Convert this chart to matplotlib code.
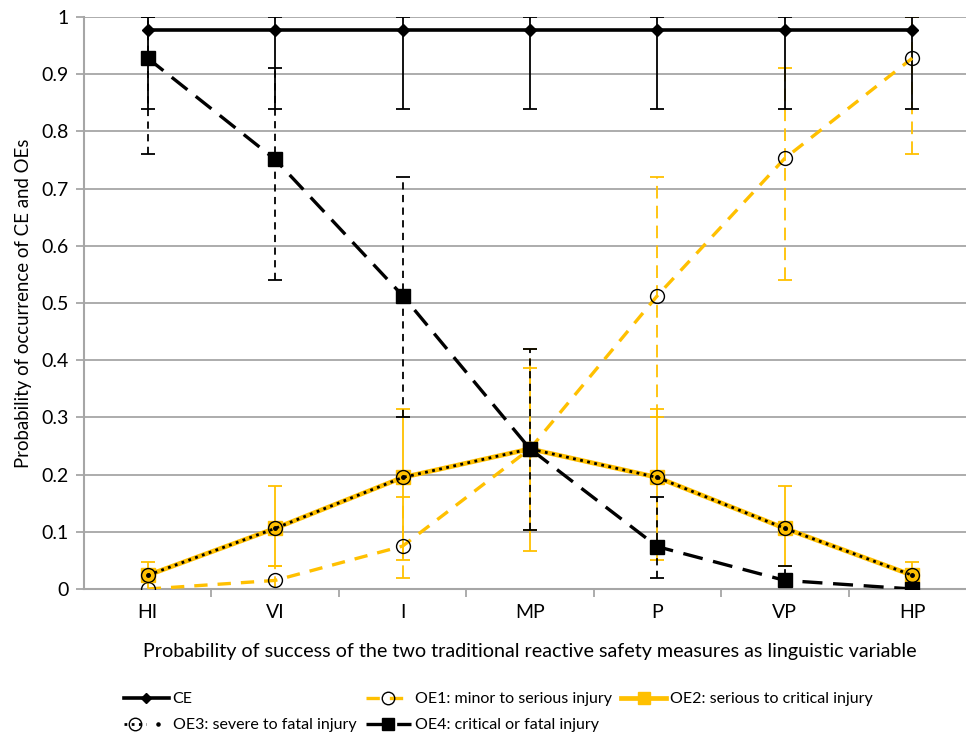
import matplotlib.pyplot as plt
import numpy as np
from matplotlib.legend_handler import HandlerTuple

plt.rcParams['font.family'] = ['Lato', 'DejaVu Sans']

categories = ['HI', 'VI', 'I', 'MP', 'P', 'VP', 'HP']

ce = [0.977, 0.977, 0.977, 0.977, 0.977, 0.977, 0.977]
ce_lo = [0.84, 0.84, 0.84, 0.84, 0.84, 0.84, 0.84]
ce_hi = [1.0, 1.0, 1.0, 1.0, 1.0, 1.0, 1.0]

oe1 = [0.0, 0.015, 0.075, 0.245, 0.513, 0.753, 0.928]
oe1_lo = [0.0, 0.0, 0.02, 0.104, 0.30, 0.54, 0.76]
oe1_hi = [0.0, 0.04, 0.16, 0.42, 0.72, 0.91, 1.0]

oe2 = [0.024, 0.106, 0.195, 0.245, 0.195, 0.106, 0.024]
oe2_lo = [0.0, 0.04, 0.05, 0.067, 0.05, 0.04, 0.0]
oe2_hi = [0.048, 0.18, 0.314, 0.386, 0.314, 0.18, 0.048]

oe3 = [0.024, 0.106, 0.195, 0.245, 0.195, 0.106, 0.024]

oe4 = [0.928, 0.751, 0.513, 0.245, 0.074, 0.015, 0.0]
oe4_lo = [0.76, 0.54, 0.30, 0.104, 0.02, 0.0, 0.0]
oe4_hi = [1.0, 0.91, 0.72, 0.42, 0.16, 0.04, 0.0]

yellow = '#FFC000'
grid = '#A6A6A6'
x = np.arange(len(categories))

fig = plt.figure(figsize=(9.66, 7.36), dpi=100)
ax = fig.add_axes([84 / 966, 147 / 736, 892 / 966, 572 / 736])


def err(ax, vals, lo, hi, color, ls, z):
    yerr = [np.array(vals) - np.array(lo), np.array(hi) - np.array(vals)]
    eb = ax.errorbar(x, vals, yerr=yerr, fmt='none', ecolor=color,
                     elinewidth=1.3, capsize=5, capthick=1.3, zorder=z)
    eb[2][0].set_linestyle(ls)


# error bars
err(ax, oe1, oe1_lo, oe1_hi, yellow, (0, (7, 4)), 2)
err(ax, oe2, oe2_lo, oe2_hi, yellow, '-', 2.1)
err(ax, oe4, oe4_lo, oe4_hi, 'black', (0, (4, 3)), 2.2)
err(ax, ce, ce_lo, ce_hi, 'black', '-', 2.3)

# series
l_ce, = ax.plot(x, ce, color='black', lw=2.6, marker='D', ms=6, zorder=3)
l_oe1, = ax.plot(x, oe1, color=yellow, lw=2.4, dashes=(4, 3), marker='o', ms=10,
                 mfc='none', mec='black', mew=1.0, zorder=3.1)
l_oe2, = ax.plot(x, oe2, color=yellow, lw=3.4, marker='s', ms=10,
                 mfc=yellow, mec=yellow, zorder=3.2)
l_oe3, = ax.plot(x, oe3, color='black', lw=2.0, dashes=(1, 1.6), marker='o', ms=10,
                 mfc='none', mec='black', mew=1.0, zorder=3.3)
d_oe3, = ax.plot(x, oe3, ls='none', marker='o', ms=2.5, color='black', zorder=3.4)
l_oe4, = ax.plot(x, oe4, color='black', lw=2.4, dashes=(6, 3.2), marker='s', ms=10,
                 zorder=3.5)

ax.set_xlim(-0.5, 6.5)
ax.set_ylim(0, 1)
ax.set_xticks(x)
ax.set_xticklabels(categories, fontsize=14)
ax.set_xticks(np.arange(0.5, 6.5, 1), minor=True)
ax.tick_params(axis='x', which='major', length=0, pad=11)
ax.tick_params(axis='x', which='minor', length=6, color=grid, width=1.3)
ax.set_yticks(np.arange(0, 1.01, 0.1))
ax.set_yticklabels(['0', '0.1', '0.2', '0.3', '0.4', '0.5', '0.6', '0.7', '0.8', '0.9', '1'],
                   fontsize=14)
ax.tick_params(axis='y', length=6, color=grid, width=1.3, pad=5)
ax.grid(axis='y', color=grid, lw=1.3)
ax.set_axisbelow(True)
for s in ['top', 'right']:
    ax.spines[s].set_visible(False)
for s in ['left', 'bottom']:
    ax.spines[s].set_color(grid)
    ax.spines[s].set_linewidth(1.5)

ax.set_xlabel('Probability of success of the two traditional reactive safety measures as linguistic variable',
              fontsize=14.2, labelpad=16)
ax.set_ylabel('Probability of occurrence of CE and OEs', fontsize=13.4, labelpad=7)

handles = [l_ce, (l_oe3, d_oe3), l_oe1, l_oe4, l_oe2]
labels = ['CE', 'OE3: severe to fatal injury', 'OE1: minor to serious injury',
          'OE4: critical or fatal injury', 'OE2: serious to critical injury']
fig.legend(handles, labels, ncol=3, loc='upper left', bbox_to_anchor=(116 / 966, 1 - 684 / 736),
           frameon=False, fontsize=11.5, handlelength=2.8, handletextpad=0.25,
           columnspacing=0.6, labelspacing=0.75, borderpad=0, markerscale=0.9,
           handler_map={tuple: HandlerTuple(ndivide=None, pad=0)})

fig.savefig('out.png', dpi=100)
